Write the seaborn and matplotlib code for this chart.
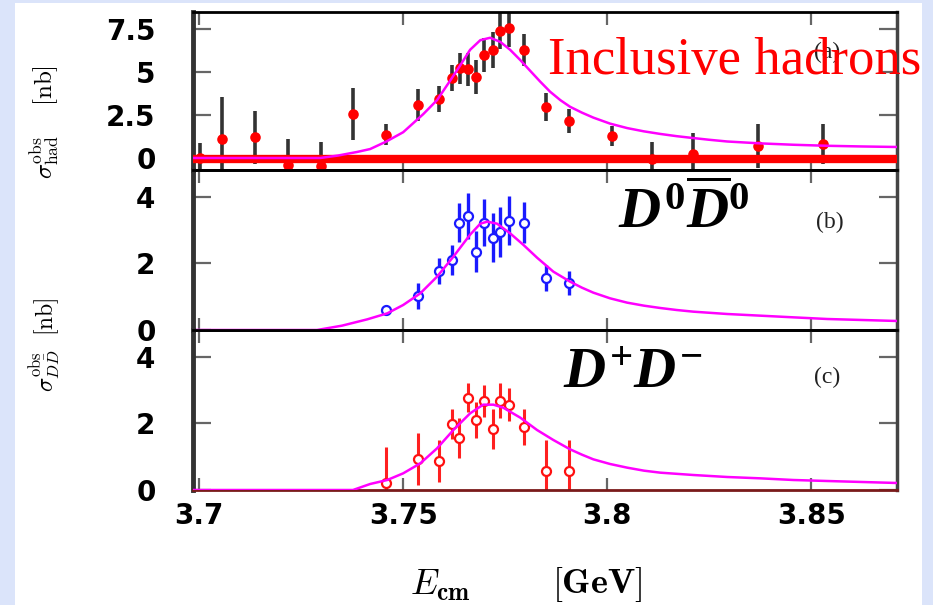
import matplotlib
matplotlib.use("Agg")
import matplotlib.pyplot as plt
from matplotlib.patches import Rectangle
import seaborn as sns

# ---- data ----
E_had = [3.7002, 3.7056, 3.7137, 3.7218, 3.7299, 3.7377, 3.7458, 3.7537, 3.7588, 3.7620,
         3.7640, 3.7659, 3.7679, 3.7699, 3.7720, 3.7738, 3.7760, 3.7797, 3.7850, 3.7907,
         3.8012, 3.8110, 3.8211, 3.8370, 3.8529]
sigma_had = [0.0, 1.1, 1.2, -0.4, -0.45, 2.55, 1.35, 3.07, 3.43, 4.65,
             5.23, 5.17, 4.7, 6.0, 6.3, 7.4, 7.56, 6.3, 2.97, 2.17,
             1.28, -0.05, 0.23, 0.7, 0.8]
err_had = [0.85, 2.45, 1.55, 1.5, 1.4, 1.5, 0.6, 0.93, 0.75, 0.76,
           0.9, 0.95, 1.0, 1.0, 1.05, 1.05, 1.1, 0.93, 0.8, 0.7,
           0.58, 1.0, 1.2, 1.3, 1.15]

E_dd = [3.7458, 3.7537, 3.7588, 3.7620, 3.7637, 3.7659, 3.7679, 3.7699, 3.7720, 3.7738,
        3.7760, 3.7797, 3.7850, 3.7907]
sigma_d0 = [0.6, 1.02, 1.78, 2.1, 3.22, 3.43, 2.35, 3.22, 2.77, 2.95, 3.28, 3.22, 1.56, 1.41]
err_d0 = [0.15, 0.39, 0.39, 0.46, 0.58, 0.69, 0.62, 0.7, 0.73, 0.75, 0.73, 0.62, 0.39, 0.35]
sigma_dp = [0.2, 0.93, 0.87, 1.98, 1.56, 2.77, 2.1, 2.68, 1.83, 2.68, 2.56, 1.9, 0.57, 0.57]
err_dp = [1.08, 0.77, 0.63, 0.45, 0.59, 0.44, 0.54, 0.48, 0.61, 0.53, 0.5, 0.54, 0.93, 0.93]

# fitted curves
fit_a_E = [3.698, 3.7297, 3.734, 3.7387, 3.7419, 3.7458, 3.750, 3.7549, 3.7583, 3.7615,
           3.764, 3.7664, 3.7689, 3.7713, 3.7738, 3.7762, 3.7787, 3.7811, 3.7836, 3.786,
           3.7885, 3.7909, 3.7938, 3.7966, 3.8007, 3.8049, 3.809, 3.813, 3.817, 3.8211,
           3.825, 3.8294, 3.8375, 3.8456, 3.8539, 3.8625, 3.8711]
fit_a_sig = [0.0, 0.0, 0.14, 0.35, 0.52, 0.95, 1.5, 2.55, 3.37, 4.5,
             5.4, 6.3, 6.86, 7.0, 6.76, 6.3, 5.7, 5.08, 4.44, 3.86,
             3.37, 2.98, 2.64, 2.35, 2.0, 1.74, 1.55, 1.4, 1.27, 1.16,
             1.06, 0.96, 0.85, 0.77, 0.71, 0.67, 0.64]
fit_b_E = [3.698, 3.7289, 3.735, 3.7412, 3.7461, 3.750, 3.7542, 3.7583, 3.7623,
           3.7664, 3.7689, 3.7706, 3.773, 3.7762, 3.7794, 3.7828, 3.7868, 3.7909,
           3.7938, 3.7966, 3.8007, 3.8049, 3.809, 3.813, 3.817, 3.8211, 3.8294, 3.8375,
           3.8456, 3.8539, 3.8625, 3.8711]
fit_b_sig = [0.0, 0.0, 0.13, 0.32, 0.5, 0.75, 1.1, 1.6, 2.2,
             2.86, 3.19, 3.25, 3.19, 2.9, 2.56, 2.17, 1.75, 1.45,
             1.27, 1.12, 0.95, 0.82, 0.73, 0.66, 0.6, 0.55, 0.48, 0.43,
             0.38, 0.33, 0.3, 0.27]
fit_c_E = [3.698, 3.7377, 3.7419, 3.7461, 3.750, 3.7542, 3.7583, 3.7623,
           3.7664, 3.7696, 3.7721, 3.7745, 3.7787, 3.7828, 3.7868, 3.7909,
           3.7938, 3.7966, 3.8007, 3.8049, 3.809, 3.813, 3.8211, 3.8294, 3.8375,
           3.8456, 3.8539, 3.8625, 3.8711]
fit_c_sig = [0.0, 0.0, 0.18, 0.3, 0.5, 0.8, 1.25, 1.8,
             2.3, 2.56, 2.56, 2.47, 2.17, 1.8, 1.5, 1.22,
             1.06, 0.92, 0.78, 0.67, 0.58, 0.52, 0.45, 0.39, 0.35,
             0.3, 0.27, 0.24, 0.21]

x_ticks = [3.7, 3.75, 3.8, 3.85]
x_tick_labels = ["3.7", "3.75", "3.8", "3.85"]
y_ticks_a = [0, 2.5, 5, 7.5]
y_tick_labels_a = ["0", "2.5", "5", "7.5"]
y_ticks_dd = [0, 2, 4]

# ---- style ----
sns.set_style("white")
plt.rcParams["font.family"] = ["DejaVu Sans"]
plt.rcParams["text.color"] = "black"
plt.rcParams["mathtext.fontset"] = "cm"
plt.rcParams["mathtext.rm"] = "Liberation Serif:bold"
plt.rcParams["mathtext.it"] = "Liberation Serif:italic:bold"
plt.rcParams["mathtext.bf"] = "Liberation Serif:bold"

W, H = 933, 605
fig = plt.figure(figsize=(W / 100, H / 100), dpi=100)
fig.patch.set_facecolor("#dbe4fa")
fig.add_artist(Rectangle((15 / W, 0), (922 - 15) / W, (H - 3) / H,
                         transform=fig.transFigure, facecolor="white",
                         edgecolor="none", zorder=0))

def fx(px):
    return px / W

def fy(py):
    return 1 - py / H

left, right = 193, 897
ax_a = fig.add_axes([fx(left), fy(170), fx(right) - fx(left), fy(12) - fy(170)])
ax_b = fig.add_axes([fx(left), fy(330), fx(right) - fx(left), fy(170) - fy(330)], sharex=ax_a)
ax_c = fig.add_axes([fx(left), fy(490), fx(right) - fx(left), fy(330) - fy(490)], sharex=ax_a)

magenta = "#ff00ff"

# panel (a): inclusive hadrons
ax_a.errorbar(E_had, sigma_had, yerr=err_had, fmt="none", ecolor="#333333",
              elinewidth=2.6, capsize=0, zorder=2)
ax_a.axhline(-0.05, color="red", lw=6, zorder=3)
sns.scatterplot(x=E_had, y=sigma_had, ax=ax_a, color="red", s=58,
                linewidth=0, zorder=4, legend=False)
sns.lineplot(x=fit_a_E, y=fit_a_sig, ax=ax_a, color=magenta, lw=1.8,
             sort=False, estimator=None, zorder=5)
ax_a.set_ylim(-0.7, 8.5)
ax_a.set_yticks(y_ticks_a)
ax_a.set_yticklabels(y_tick_labels_a)

# panel (b): D0 D0bar
ax_b.errorbar(E_dd, sigma_d0, yerr=err_d0, fmt="none", ecolor="#1a1aff",
              elinewidth=2.4, capsize=0, zorder=2)
sns.scatterplot(x=E_dd, y=sigma_d0, ax=ax_b, color="white", edgecolor="#1a1aff",
                s=42, linewidth=1.6, zorder=4, legend=False)
sns.lineplot(x=fit_b_E, y=fit_b_sig, ax=ax_b, color=magenta, lw=1.8,
             sort=False, estimator=None, zorder=5)
ax_b.set_ylim(0, 4.8)
ax_b.set_yticks(y_ticks_dd)

# panel (c): D+ D-
ax_c.errorbar(E_dd, sigma_dp, yerr=err_dp, fmt="none", ecolor="#ff2020",
              elinewidth=2.2, capsize=0, zorder=2)
sns.scatterplot(x=E_dd, y=sigma_dp, ax=ax_c, color="white", edgecolor="#ff1010",
                s=42, linewidth=1.6, zorder=4, legend=False)
sns.lineplot(x=fit_c_E, y=fit_c_sig, ax=ax_c, color=magenta, lw=1.8,
             sort=False, estimator=None, zorder=5)
ax_c.set_ylim(0, 4.8)
ax_c.set_yticks(y_ticks_dd)

ax_c.set_xlim(3.6985, 3.871)
ax_c.set_xticks(x_ticks)
ax_c.set_xticklabels(x_tick_labels)

for ax in (ax_a, ax_b, ax_c):
    ax.set_facecolor("none")
    ax.set_xlabel("")
    ax.set_ylabel("")
    ax.tick_params(axis="y", which="major", direction="in", left=True, right=True,
                   length=13, width=1.6, color="#666666", pad=27, labelcolor="black")
    ax.tick_params(axis="x", which="major", direction="in", top=True, bottom=True,
                   length=9, width=1.6, color="#666666", pad=9, labelcolor="black")
    for lab in ax.get_yticklabels() + ax.get_xticklabels():
        lab.set_fontweight("bold")
        lab.set_fontsize(20)
    ax.spines["left"].set_linewidth(3.5)
    ax.spines["left"].set_color("#333333")
    ax.spines["right"].set_linewidth(2.5)
    ax.spines["right"].set_color("#444444")
    ax.spines["top"].set_linewidth(2)
    ax.spines["top"].set_color("black")
    ax.spines["bottom"].set_linewidth(2)
    ax.spines["bottom"].set_color("black")
    for s in ax.spines.values():
        s.set_visible(True)

ax_a.tick_params(axis="x", labelbottom=False)
ax_b.tick_params(axis="x", labelbottom=False)
ax_c.spines["bottom"].set_color("#7a1a1a")

# axis labels
fig.text(fx(45), fy(122), r"$\sigma^{\rm obs}_{\rm had}\ \ \ \ [{\rm nb}]$",
         rotation=90, ha="center", va="center", fontsize=18, math_fontfamily="cm")
fig.text(fx(45), fy(345), r"$\sigma^{\rm obs}_{D\bar{D}}\ \ [{\rm nb}]$",
         rotation=90, ha="center", va="center", fontsize=17, math_fontfamily="cm")
fig.text(fx(440), fy(585), r"$E_{\mathbf{cm}}$",
         ha="center", va="center", fontsize=26, math_fontfamily="cm")
fig.text(fx(597), fy(585), r"$[\mathbf{GeV}]$",
         ha="center", va="center", fontsize=26, math_fontfamily="cm")

# panel tags
for tag, px, py in (("(a)", 827, 52), ("(b)", 830, 222), ("(c)", 827, 377)):
    fig.text(fx(px), fy(py), tag, ha="center", va="center", fontsize=17,
             family="Liberation Serif", color="#222222")

# slide annotations
fig.text(fx(548), fy(74), "Inclusive hadrons", ha="left", va="baseline",
         fontsize=38, family="Liberation Serif", color="red", zorder=10)
fig.text(fx(618), fy(228), r"$D^0\overline{D}^0$", ha="left", va="baseline",
         fontsize=42, math_fontfamily="custom", color="black", zorder=10)
fig.text(fx(563), fy(388), r"$D^{+}D^{-}$", ha="left", va="baseline",
         fontsize=42, math_fontfamily="custom", color="black", zorder=10)

fig.savefig("out.png", dpi=100, facecolor=fig.get_facecolor())
